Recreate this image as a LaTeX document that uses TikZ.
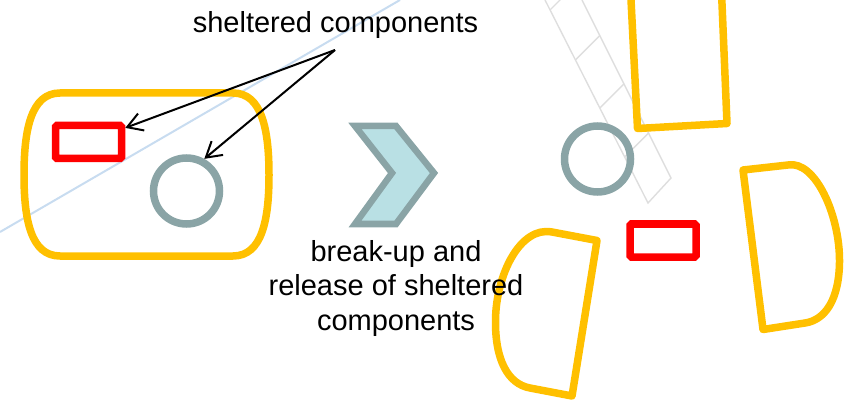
\documentclass[tikz,border=0pt]{standalone}
\usepackage{fontspec}
\setmainfont{Liberation Sans}
\usetikzlibrary{arrows.meta}
\definecolor{yel}{RGB}{255,192,0}
\definecolor{redc}{RGB}{255,0,0}
\definecolor{grc}{RGB}{138,164,166}
\definecolor{chfill}{RGB}{185,224,228}
\definecolor{bluel}{RGB}{200,220,240}
\definecolor{ladderc}{RGB}{222,222,222}
\begin{document}
\begin{tikzpicture}[x=1pt,y=-1pt,
  part/.style={draw=yel,line width=7.5pt,line join=round},
  redbox/.style={rectangle,draw=redc,line width=7.5pt,rounded corners=1.5pt,
    minimum width=66pt,minimum height=33pt,inner sep=0pt},
  ring/.style={circle,draw=grc,line width=7.5pt,minimum size=66pt,inner sep=0pt},
  arr/.style={-{Straight Barb[length=15pt,width=18pt]},line width=2pt},
  lbl/.style={font=\fontsize{29}{34.5}\selectfont,inner sep=0pt,align=center},
  rail/.style={draw=ladderc,line width=1.4pt},
  chev/.style={draw=grc,fill=chfill,line width=6.5pt,line join=miter}
]
\useasboundingbox (0,0) rectangle (850,403);
\clip (0,0) rectangle (850,403);
% faint background lines
\draw[bluel,line width=2pt] (0,232) -- (400,0);
\draw[rail] (545,0) -- (648,203) -- (671,178) -- (582,0);
\draw[rail] (550,10) -- (575,-15);
\draw[rail] (575.4,60) -- (599.8,35.6);
\draw[rail] (599.8,108) -- (623.9,83.9);
\draw[rail] (624.6,157) -- (648.5,133);
% left: intact unit
\draw[part] (60,93) -- (233,93) .. controls (262,93) and (269,130) .. (269,175)
  .. controls (269,220) and (262,256) .. (233,256) -- (60,256)
  .. controls (31,256) and (24,220) .. (24,175)
  .. controls (24,130) and (31,93) .. (60,93) -- cycle;
\node[redbox] (redL) at (88.5,142) {};
\node[ring] (circL) at (186.5,191) {};
% chevron
\draw[chev] (355,126) -- (396,126) -- (434,173) -- (396,224) -- (355,224) -- (392,173) -- cycle;
% right: broken-up parts
\draw[part] (630,-20) -- (637.5,128.5) -- (727,123.5) -- (721,-20);
\draw[part] (743,170) -- (788,165) .. controls (815,160) and (840,215) .. (839.5,262)
  .. controls (839,300) and (825,320) .. (805,323) -- (763,329.5) -- cycle;
\draw[part] (597,240.5) -- (552,232) .. controls (520,226) and (496,275) .. (495.5,320)
  .. controls (495,360) and (508,384) .. (530,388) -- (572,396) -- cycle;
\node[ring] (circR) at (597.5,159) {};
\node[redbox] (redR) at (663,240.5) {};
% labels and arrows
\node[lbl,anchor=base] (top) at (335.5,33) {sheltered components};
\coordinate (src) at (335,50);
\draw[arr] (src) -- (redL.21);
\draw[arr] (src) -- (circL.61);
\node[lbl] (brk) at (396,288.5) {break-up and\\release of sheltered\\components};
\end{tikzpicture}
\end{document}
